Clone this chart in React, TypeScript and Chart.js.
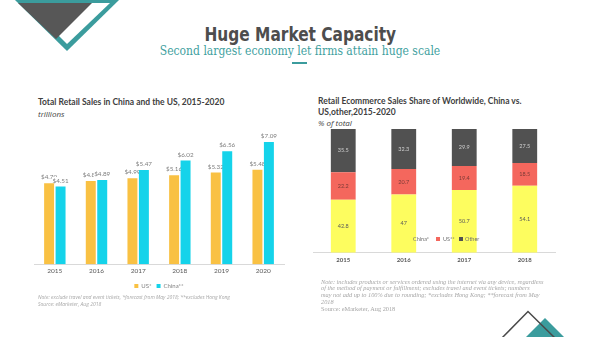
import React, { useEffect, useRef } from "react";
import { Chart, registerables } from "chart.js";
Chart.register(...registerables);

const retailYears = ["2015", "2016", "2017", "2018", "2019", "2020"];
const usRetail = [4.7, 4.83, 4.99, 5.16, 5.32, 5.48];
const chinaRetail = [4.51, 4.89, 5.47, 6.02, 6.56, 7.09];
const retailSeriesNames = ["US*", "China**"];

const shareYears = ["2015", "2016", "2017", "2018"];
const chinaShare = [42.8, 47, 50.7, 54.1];
const usShare = [22.2, 20.7, 19.4, 18.5];
const otherShare = [35.5, 32.3, 29.9, 27.5];
const shareSeriesNames = ["China*", "US**", "Other"];

const TEAL = "#3b9c9d";
const US_COLOR = "#f9c143";
const CHINA_COLOR = "#15d3ea";
const SHARE_COLORS = ["#fdfd5f", "#f4675d", "#515151"];
const SHARE_LABEL_COLORS = ["#5a5a5a", "#7a3a36", "#d0d0d0"];

const retailLabels = {
  id: "retailLabels",
  beforeDatasetsDraw(chart: any) {
    const ctx = chart.ctx;
    ctx.save();
    ctx.font = "6.3px Lato";
    ctx.textAlign = "center";
    ctx.textBaseline = "alphabetic";
    const n = chart.data.labels.length;
    for (let j = 0; j < n; j++) {
      chart.data.datasets.forEach((ds: any, i: number) => {
        const el = chart.getDatasetMeta(i).data[j];
        const t = "$" + Number(ds.data[j]).toFixed(2);
        const w = ctx.measureText(t).width;
        const y = el.y - 4;
        ctx.fillStyle = "#ffffff";
        ctx.fillRect(el.x - w / 2 - 0.5, y - 5.5, w + 1, 7);
        ctx.fillStyle = "#7f7f7f";
        ctx.fillText(t, el.x, y);
      });
    }
    ctx.restore();
  },
};

const shareLabels = {
  id: "shareLabels",
  afterDatasetsDraw(chart: any) {
    const ctx = chart.ctx;
    ctx.save();
    ctx.font = "5.5px Lato";
    ctx.textAlign = "center";
    ctx.textBaseline = "middle";
    chart.data.datasets.forEach((ds: any, i: number) => {
      chart.getDatasetMeta(i).data.forEach((el: any, j: number) => {
        ctx.fillStyle = SHARE_LABEL_COLORS[i];
        ctx.fillText(String(ds.data[j]), el.x, (el.y + el.base) / 2);
      });
    });
    ctx.restore();
  },
};

function RetailChart() {
  const ref = useRef<HTMLCanvasElement>(null);
  useEffect(() => {
    const chart = new Chart(ref.current!, {
      type: "bar",
      data: {
        labels: retailYears,
        datasets: [
          { label: retailSeriesNames[0], data: usRetail, backgroundColor: US_COLOR, categoryPercentage: 0.55, barPercentage: 0.87 },
          { label: retailSeriesNames[1], data: chinaRetail, backgroundColor: CHINA_COLOR, categoryPercentage: 0.55, barPercentage: 0.87 },
        ],
      },
      options: {
        animation: false,
        responsive: false,
        maintainAspectRatio: false,
        layout: { padding: { left: 4, right: 4, top: 8.4, bottom: 0 } },
        plugins: {
          tooltip: { enabled: false },
          legend: {
            position: "bottom",
            labels: { boxWidth: 4, boxHeight: 4, padding: 5, color: "#7f7f7f", font: { size: 6, family: "Lato" } },
          },
        },
        scales: {
          x: {
            grid: { display: false, drawTicks: false },
            border: { color: "#d9d9d9" },
            ticks: { color: "#595959", padding: 3, font: { size: 6.5, family: "Lato" } },
          },
          y: { display: false, min: 0, max: 8 },
        },
      },
      plugins: [retailLabels],
    });
    return () => chart.destroy();
  }, []);
  return <canvas ref={ref} width={258} height={181} style={{ position: "absolute", left: 30, top: 118, width: 258, height: 181 }} />;
}

function ShareChart() {
  const ref = useRef<HTMLCanvasElement>(null);
  useEffect(() => {
    const series = [chinaShare, usShare, otherShare];
    const chart = new Chart(ref.current!, {
      type: "bar",
      data: {
        labels: shareYears,
        datasets: series.map((d, i) => ({
          label: shareSeriesNames[i],
          data: d,
          backgroundColor: SHARE_COLORS[i],
          categoryPercentage: 1,
          barPercentage: 0.41,
        })),
      },
      options: {
        animation: false,
        responsive: false,
        maintainAspectRatio: false,
        layout: { padding: { left: 4, right: 4, top: 9, bottom: 0 } },
        plugins: { tooltip: { enabled: false }, legend: { display: false } },
        scales: {
          x: {
            stacked: true,
            grid: { display: false, drawTicks: false },
            border: { color: "#d9d9d9" },
            ticks: { color: "#595959", padding: 4, font: { size: 6, family: "Lato", weight: "bold" } },
          },
          y: { display: false, stacked: true, min: 0, max: 100 },
        },
      },
      plugins: [shareLabels],
    });
    return () => chart.destroy();
  }, []);
  return <canvas ref={ref} width={250} height={148} style={{ position: "absolute", left: 309, top: 120, width: 250, height: 148 }} />;
}

const abs = (s: React.CSSProperties): React.CSSProperties => ({ position: "absolute", whiteSpace: "nowrap", margin: 0, ...s });

export default function App() {
  const sq = (left: number, color: string) => (
    <div style={abs({ left, top: 237, width: 4, height: 4, background: color })} />
  );
  const legTxt = (left: number, t: string) => (
    <div style={abs({ left, top: 235.5, fontFamily: "Lato", fontSize: 5.5, color: "#6f6f6f", lineHeight: "7px" })}>{t}</div>
  );
  return (
    <div style={{ position: "fixed", left: 0, top: 0, width: 600, height: 337, background: "#fff", overflow: "hidden" }}>
      <svg width={600} height={337} style={{ position: "absolute", left: 0, top: 0 }}>
        <polygon points="15,0 119,0 67,51" fill={TEAL} />
        <polygon points="26,3 110,3 67,44" fill="#ffffff" />
        <polygon points="18,3 92,3 56,39" fill="#575757" />
        <polygon points="545,318 580,353 510,353" fill={TEAL} />
        <polyline points="500,340 528,311.5 560,343" fill="none" stroke="#4a4a4a" strokeWidth={1.5} />
        <rect x={292} y={62} width={15} height={2} fill={TEAL} />
      </svg>
      <div style={abs({ left: 0, width: 600, top: 22, textAlign: "center", fontFamily: "'DejaVu Sans Condensed', 'DejaVu Sans', sans-serif", fontWeight: "bold", fontSize: 19, color: "#4d4d4d", lineHeight: "24px", transform: "scaleX(0.9)", transformOrigin: "303px 0" })}>
        Huge Market Capacity
      </div>
      <div style={abs({ left: 0, width: 600, top: 44, textAlign: "center", fontFamily: "'DejaVu Serif Condensed', 'DejaVu Serif', serif", fontSize: 12, color: "#3f9fa0", lineHeight: "15px" })}>
        Second largest economy let firms attain huge scale
      </div>

      <div style={abs({ left: 38, top: 97, fontFamily: "Lato", fontWeight: "bold", fontSize: 8.5, color: "#404040", lineHeight: "10px" })}>
        Total Retail Sales in China and the US, 2015-2020
      </div>
      <div style={abs({ left: 38, top: 109, fontFamily: "'Open Sans', sans-serif", fontStyle: "italic", fontWeight: 400, fontSize: 8, color: "#404040", lineHeight: "10px" })}>
        trillions
      </div>
      <RetailChart />
      <div style={abs({ left: 38, top: 294, fontFamily: "'Open Sans', sans-serif", fontStyle: "italic", fontSize: 5, color: "#a6a6a6", lineHeight: "7px" })}>
        Note: exclude travel and event tickets, *forecast from May 2018; **excludes Hong Kong
        <br />
        Source: eMarketer, Aug 2018
      </div>

      <div style={abs({ left: 318, top: 96, fontFamily: "Lato", fontWeight: "bold", fontSize: 8.5, color: "#404040", lineHeight: "11px" })}>
        Retail Ecommerce Sales Share of Worldwide, China vs.
        <br />
        US,other,2015-2020
      </div>
      <div style={abs({ left: 318, top: 118, fontFamily: "'Open Sans', sans-serif", fontStyle: "italic", fontWeight: 400, fontSize: 8, color: "#404040", lineHeight: "10px" })}>
        % of total
      </div>
      <ShareChart />
      {sq(406, SHARE_COLORS[0])}
      {legTxt(413, shareSeriesNames[0])}
      {sq(436, SHARE_COLORS[1])}
      {legTxt(443, shareSeriesNames[1])}
      {sq(459, SHARE_COLORS[2])}
      {legTxt(465, shareSeriesNames[2])}
      <div style={abs({ left: 321, top: 278.5, fontFamily: "'Liberation Serif', serif", fontStyle: "italic", fontSize: 6.3, color: "#a6a6a6", lineHeight: "6.8px" })}>
        Note: includes products or services ordered using the internet via any device, regardless
        <br />
        of the method of payment or fulfillment; excludes travel and event tickets; numbers
        <br />
        may not add up to 100% due to rounding; *excludes Hong Kong; **forecast from May
        <br />
        2018
        <br />
        <span style={{ fontStyle: "normal" }}>Source: eMarketer, Aug 2018</span>
      </div>
    </div>
  );
}
